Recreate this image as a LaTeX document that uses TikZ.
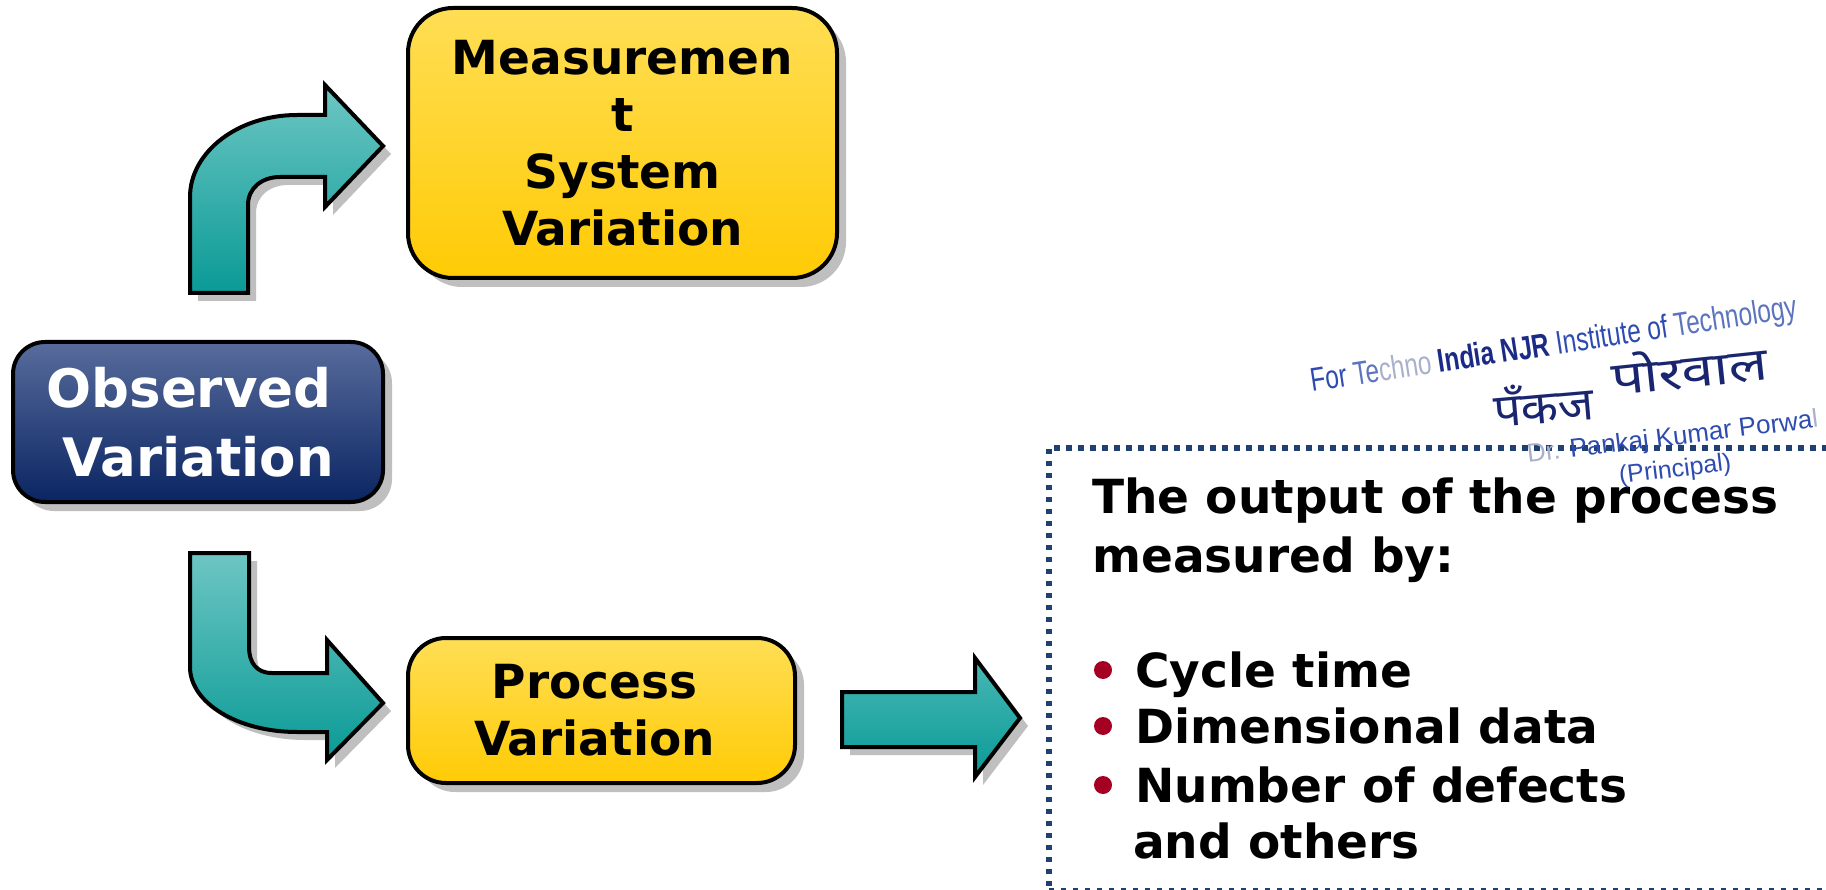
\documentclass[tikz,border=0pt]{standalone}
\usepackage{fontspec}
\setmainfont{DejaVu Sans}
\newfontfamily\stampfont{Liberation Sans}
\newfontfamily\devafont[Script=Devanagari]{Noto Sans}
\usetikzlibrary{shadows}

\definecolor{yeltop}{HTML}{FFDE55}
\definecolor{yelbot}{HTML}{FFCB05}
\definecolor{bluetop}{HTML}{586C9C}
\definecolor{bluebot}{HTML}{0A2562}
\definecolor{tealtop}{HTML}{6DC6C3}
\definecolor{tealbot}{HTML}{0A9A96}
\definecolor{tealmid}{HTML}{48B8B5}
\definecolor{dotblue}{HTML}{1F4070}
\definecolor{bulletred}{HTML}{A50021}
\definecolor{stampdark}{HTML}{1A2A86}
\definecolor{stampmid}{HTML}{2E4CB0}
\definecolor{stamplight}{HTML}{5C74C0}
\definecolor{stampfade}{HTML}{A8B0CC}
\definecolor{inkblue}{HTML}{1A2570}

\begin{document}
\begin{tikzpicture}[x=1pt, y=-1pt,
  box/.style={rectangle, draw=black, line width=4pt, align=center, inner sep=0pt,
    font=\fontsize{47}{57}\selectfont\bfseries,
    drop shadow={shadow xshift=9pt, shadow yshift=-9pt, opacity=1, fill=black!25}},
  yellowbox/.style={box, top color=yeltop, bottom color=yelbot},
  bluebox/.style={box, top color=bluetop, bottom color=bluebot, text=white,
    font=\fontsize{53}{69}\selectfont\bfseries},
  blockarrow/.style={draw=black, line width=4pt, top color=tealtop, bottom color=tealbot,
    preaction={fill=black!25, transform canvas={xshift=8pt, yshift=-8pt}}},
  dotframe/.style={draw=dotblue, line width=5.5pt, dash pattern=on 5.5pt off 6.5pt, inner sep=0pt},
  bodytext/.style={anchor=base west, inner sep=0pt, font=\fontsize{47}{57}\selectfont\bfseries},
  bulletdot/.style={circle, fill=bulletred, inner sep=0pt, minimum size=18pt},
  stamp/.style={inner sep=0pt, anchor=base west, font=\stampfont\fontsize{33}{36}\selectfont},
  ink/.style={inner sep=0pt, anchor=base west, text=inkblue, font=\devafont\fontsize{46}{50}\selectfont}
]
\useasboundingbox (0,0) rectangle (1826,890);
\clip (0,0) rectangle (1826,890);

% the three variation boxes
\node[bluebox, rounded corners=32pt, minimum width=370pt, minimum height=160pt]
  (obs) at (198,422) {Observed\kern18pt\\Variation};
\node[yellowbox, rounded corners=45pt, minimum width=429pt, minimum height=270pt]
  (meas) at (622.5,143) {Measuremen\\t\\System\\Variation};
\node[yellowbox, rounded corners=38pt, minimum width=387pt, minimum height=145pt]
  (proc) at (601.5,710.5) {Process\kern14pt\\Variation\kern14pt};

% bent arrow up to the measurement system box
\path[blockarrow]
  (190,293) -- (190,197) .. controls (190,152) and (238,115) .. (297,115)
  -- (325,115) -- (325,85) -- (383,146) -- (325,207) -- (325,177) -- (280,177)
  .. controls (262,177) and (248,188) .. (248,205) -- (248,293) -- cycle;

% bent arrow down to the process box
\path[blockarrow]
  (190,553) -- (249,553) -- (249,647) .. controls (249,662) and (256,673) .. (272,673)
  -- (327,673) -- (327,640) -- (383,703) -- (327,760) -- (327,732) -- (297,732)
  .. controls (238,732) and (190,703) .. (190,667) -- cycle;

% straight arrow towards the output panel
\path[blockarrow, top color=tealmid]
  (842,692) -- (975,692) -- (975,658) -- (1020,718) -- (975,777) -- (975,747)
  -- (842,747) -- cycle;

% output panel
\node[dotframe, anchor=north west, minimum width=900pt, minimum height=443pt]
  (frame) at (1046,445) {};
\node[bodytext] (l1) at (1092,513) {The output of the process};
\node[bodytext] (l2) at (1092,572) {measured by:};
\node[bulletdot] (b1) at (1103,670) {};
\node[bodytext] (l3) at (1135,687) {Cycle time};
\node[bulletdot] (b2) at (1103,726) {};
\node[bodytext] (l4) at (1135,743) {Dimensional data};
\node[bulletdot] (b3) at (1103,785) {};
\node[bodytext] (l5) at (1135,802) {Number of defects};
\node[bodytext] (l6) at (1133,858) {and others};

% signature stamp
\node[stamp, rotate=8.7, xscale=0.74] (s1) at (1312,392)
  {\color{stampmid}For \color{stamplight}Te\color{stampfade}chno \color{stampdark}\bfseries India NJR
   \mdseries\color{stampmid}Institute of \color{stamplight}Technology};
\node[ink, rotate=5, xscale=1.05] (s2) at (1495,428) {पँकज};
\node[ink, rotate=6, xscale=1.25] (s3) at (1613,396) {पोरवाल};
\node[stamp, rotate=7, font=\stampfont\fontsize{26}{29}\selectfont] (s4)
  at (1528,463) {\color{stampfade}Dr. \color{stampmid}Pankaj Kumar Porwa\color{stampfade}l};
\node[stamp, rotate=7, font=\stampfont\fontsize{25}{28}\selectfont,
  text=stampmid] (s5) at (1620,484) {(Principal)};
\end{tikzpicture}
\end{document}
